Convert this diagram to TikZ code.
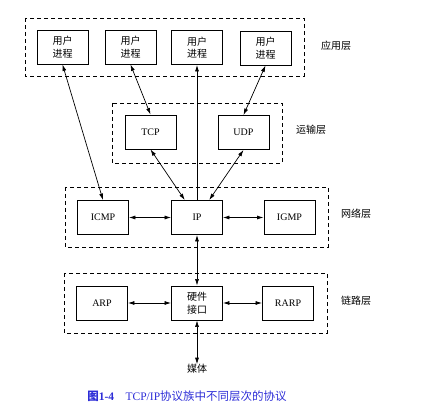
\documentclass[tikz,border=0pt]{standalone}
\usepackage{fontspec}
\setmainfont{Liberation Serif}
\newfontfamily\cjk{Noto Sans CJK SC}
\usepackage{tikz}
\usetikzlibrary{arrows.meta}

\definecolor{capblue}{RGB}{45,45,215}

\begin{document}
\begin{tikzpicture}[x=1pt, y=-1pt,
  proc/.style={draw, line width=0.9pt, minimum width=51pt, minimum height=34pt, inner sep=0pt, align=center, font=\fontsize{10}{12.5}\selectfont},
  layerbox/.style={draw, line width=0.8pt, dash pattern=on 4pt off 3pt},
  lbl/.style={font=\cjk\fontsize{10}{12}\selectfont, inner sep=0pt},
  dbl/.style={line width=0.7pt, {Latex[length=6.5pt,width=4pt]}-{Latex[length=6.5pt,width=4pt]}},
  sgl/.style={line width=0.7pt, -{Latex[length=6.5pt,width=4pt]}}]
  \useasboundingbox (0,0) rectangle (445,417);

  \draw[layerbox] (25,18) rectangle (304,76);
  \draw[layerbox] (112,103) rectangle (282,163);
  \draw[layerbox] (65,187) rectangle (328,247);
  \draw[layerbox] (64,273) rectangle (327,333);

  \node[proc] (u1) at ( 62.5,47) {\cjk 用户\\\cjk 进程};
  \node[proc] (u2) at (130.5,47) {\cjk 用户\\\cjk 进程};
  \node[proc] (u3) at (197,  47.5) {\cjk 用户\\\cjk 进程};
  \node[proc] (u4) at (265.5,48) {\cjk 用户\\\cjk 进程};

  \node[proc] (tcp) at (150.5,132) {TCP};
  \node[proc] (udp) at (243.5,132.5) {UDP};

  \node[proc] (icmp) at (103,  217.5) {ICMP};
  \node[proc] (ip)   at (197,  217.5) {IP};
  \node[proc] (igmp) at (289.5,217.5) {IGMP};

  \node[proc] (arp)  at (102,  303) {ARP};
  \node[proc] (hw)   at (197,  303) {\cjk 硬件\\\cjk 接口};
  \node[proc] (rarp) at (288,  303) {RARP};

  \node[lbl] (app)  at (336,46)  {应用层};
  \node[lbl] (tran) at (311,130) {运输层};
  \node[lbl] (net)  at (356,214) {网络层};
  \node[lbl] (link) at (356,301) {链路层};
  \node[lbl] (media) at (197,369) {媒体};

  \node[inner sep=0pt, text=capblue, font=\fontsize{11.5}{13}\selectfont] (cap) at (187,396)
    {{\cjk\bfseries 图}\textbf{1-4}\quad TCP/IP{\cjk 协议族中不同层次的协议}};

  \draw[dbl] (u1.south) -- (icmp.north);
  \draw[dbl] (u2.south) -- (tcp.north);
  \draw[sgl] (ip.north) -- (u3.south);
  \draw[dbl] (u4.south) -- (udp.north);
  \draw[dbl] (tcp.south) -- (ip.125);
  \draw[dbl] (udp.south) -- (ip.55);
  \draw[dbl] (icmp.east) -- (ip.west);
  \draw[dbl] (ip.east) -- (igmp.west);
  \draw[dbl] (ip.south) -- (hw.north);
  \draw[dbl] (arp.east) -- (hw.west);
  \draw[dbl] (hw.east) -- (rarp.west);
  \draw[dbl] (hw.south) -- (media.north);
\end{tikzpicture}
\end{document}
